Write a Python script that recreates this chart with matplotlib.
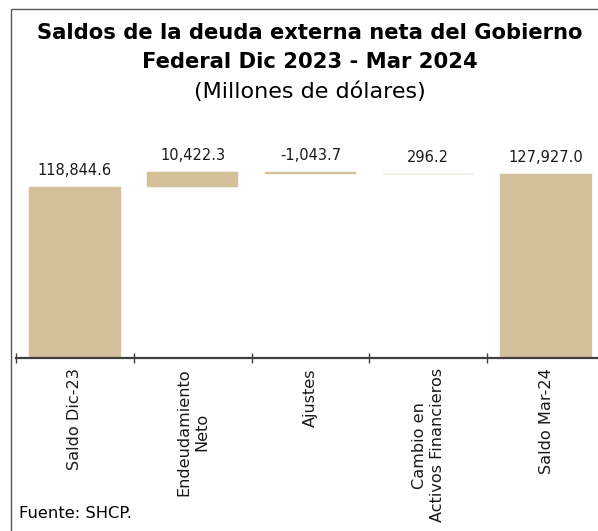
import matplotlib
matplotlib.use("Agg")
import matplotlib.pyplot as plt
from matplotlib.patches import Rectangle

# Datos (millones de dólares)
categorias = ["Saldo Dic-23", "Endeudamiento\nNeto", "Ajustes",
              "Cambio en\nActivos Financieros", "Saldo Mar-24"]
valores = [118844.6, 10422.3, -1043.7, 296.2, 127927.0]
# efecto de cada variación sobre el saldo (activos financieros restan)
efecto = [1, 1, -1]

COLOR_BARRA = "#D4C19C"
W, H = 598, 531


def waterfall_bars(valores, efecto):
    """Calcula base y altura de cada barra de la cascada."""
    bases, alturas = [0.0], [valores[0]]
    nivel = valores[0]
    for v, s in zip(valores[1:-1], efecto):
        cambio = v * s
        bases.append(min(nivel, nivel + cambio))
        alturas.append(abs(cambio))
        nivel += cambio
    bases.append(0.0)
    alturas.append(valores[-1])
    return bases, alturas


plt.rcParams["font.family"] = ["DejaVu Sans"]
fig = plt.figure(figsize=(W / 100, H / 100), dpi=100)

# marco (solo se ven los bordes superior e izquierdo)
fig.add_artist(Rectangle((11 / W, -0.1), 1.2, 1 - 9 / H + 0.1, transform=fig.transFigure,
                         fill=False, edgecolor="#555555", linewidth=1.0))

ax_left, ax_right = 16 / W, 605 / W
ax_bottom, ax_top = 1 - 358.3 / H, 1 - 140 / H
ax = fig.add_axes([ax_left, ax_bottom, ax_right - ax_left, ax_top - ax_bottom])

bases, alturas = waterfall_bars(valores, efecto)
x = list(range(len(categorias)))
bars = ax.bar(x, alturas, bottom=bases, width=0.775, color=COLOR_BARRA,
              edgecolor=COLOR_BARRA, linewidth=0.3)

for i, (b, h, v) in enumerate(zip(bases, alturas, valores)):
    ax.annotate(f"{v:,.1f}", xy=(i, b + h), xytext=(0, 11.9), textcoords="offset points",
                ha="center", va="center", fontsize=10.5, color="#1a1a1a")

ax.set_xlim(-0.5, len(categorias) - 0.5)
ax.set_ylim(0, 218.3 * 695.3)

for s in ["top", "right", "left"]:
    ax.spines[s].set_visible(False)
ax.spines["bottom"].set_color("#404040")
ax.spines["bottom"].set_linewidth(1.6)
ax.set_yticks([])

ax.set_xticks([i - 0.5 for i in range(len(categorias) + 1)])
ax.set_xticklabels([])
ax.tick_params(axis="x", which="major", direction="inout", length=7, width=1, color="#404040")
ax.set_xticks(x, minor=True)
ax.set_xticklabels(categorias, minor=True, rotation=90, ha="center", va="top",
                   multialignment="center", fontsize=11.6, color="#1a1a1a")
ax.tick_params(axis="x", which="minor", length=0, pad=7)

fig.text(310 / W, 1 - 33 / H, "Saldos de la deuda externa neta del Gobierno",
         ha="center", va="center", fontsize=15.2, fontweight="bold")
fig.text(310 / W, 1 - 62 / H, "Federal Dic 2023 - Mar 2024",
         ha="center", va="center", fontsize=15.2, fontweight="bold")
fig.text(310 / W, 1 - 92 / H, "(Millones de dólares)",
         ha="center", va="center", fontsize=16)

fig.text(19 / W, 1 - 514 / H, "Fuente: SHCP.", ha="left", va="center", fontsize=11.8)

fig.savefig("out.png", dpi=100)
